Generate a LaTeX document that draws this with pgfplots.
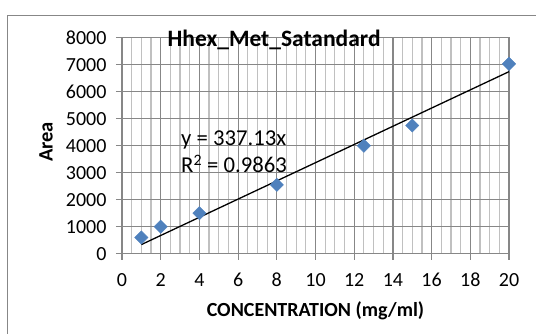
\documentclass[border=0pt]{standalone}
\usepackage{fontspec}
\setmainfont{Carlito}
\usepackage{pgfplots}
\pgfplotsset{compat=1.18}
\definecolor{majg}{HTML}{878787}
\definecolor{ming}{HTML}{C0C0C0}
\definecolor{xlblue}{HTML}{4F81BD}
\begin{document}
\begin{tikzpicture}
\useasboundingbox (0,0) rectangle (536pt,334pt);
\draw[majg, line width=1.3pt] (7.6pt,-2pt) -- (7.6pt,318.6pt) -- (540pt,318.6pt);
\begin{axis}[
  at={(122pt,80.3pt)}, anchor=south west,
  scale only axis, width=387pt, height=216pt,
  xmin=0, xmax=20, ymin=0, ymax=8000,
  xtick distance=2, ytick distance=1000,
  minor x tick num=3,
  xmajorgrids, ymajorgrids, xminorgrids,
  major grid style={majg, line width=1.2pt},
  minor grid style={ming, line width=1.2pt},
  axis line style={majg, line width=1.2pt},
  xtick pos=bottom, ytick pos=left,
  tick align=outside, major tick length=6pt, minor tick length=0pt,
  major tick style={majg, line width=1.2pt},
  scaled y ticks=false,
  /pgf/number format/1000 sep={},
  /pgf/number format/assume math mode=true,
  tick label style={font=\fontsize{20}{22}\selectfont},
  yticklabel style={xshift=-6pt},
  xticklabel style={yshift=-10pt},
  title={\textbf{Hhex\_Met\_Satandard}},
  title style={at={(rel axis cs:0.393,0.961)}, anchor=center, font=\fontsize{23.5}{25}\selectfont, inner sep=0pt},
  xlabel={\textbf{CONCENTRATION (mg/ml)}},
  xlabel style={at={(rel axis cs:0.5,0)}, anchor=center, yshift=-57pt, font=\fontsize{20}{22}\selectfont},
  ylabel={\textbf{Area}},
  ylabel style={at={(rel axis cs:0,0.517)}, anchor=center, yshift=76pt, inner sep=0pt, font=\fontsize{20.5}{22}\selectfont},
  clip=false,
]
\addplot[only marks, mark=square*, mark size=4.7pt, mark options={rotate=45, fill=xlblue, draw=xlblue}]
  coordinates {(1,600) (2,1000) (4,1500) (8,2550) (12.5,4000) (15,4750) (20,7030)};
\addplot[black, line width=1.3pt] coordinates {(1,337.13) (20,6742.6)};
\node[anchor=west, inner sep=0pt, font=\fontsize{22.7}{24}\selectfont] at (axis cs:3.05,4211) {y = 337.13x};
\node[anchor=west, inner sep=0pt, font=\fontsize{22.7}{24}\selectfont] at (axis cs:3.05,3322) {R\textsuperscript{2} = 0.9863};
\end{axis}
\end{tikzpicture}
\end{document}
